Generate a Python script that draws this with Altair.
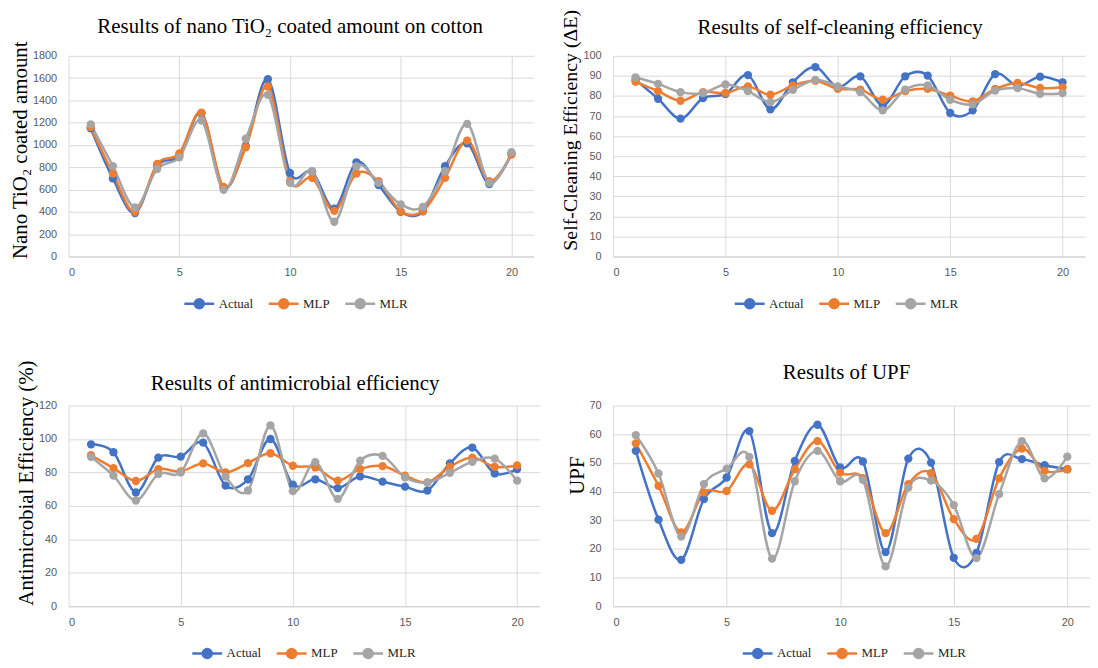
import altair as alt
import pandas as pd

x_vals = list(range(1, 21))
series = ["Actual", "MLP", "MLR"]
colors = ["#4472C4", "#ED7D31", "#A5A5A5"]

tio2_actual = [1150, 700, 390, 815, 905, 1285, 615, 990, 1590, 750, 760, 430, 845, 640, 400, 405, 810, 1015, 650, 920]
tio2_mlp = [1160, 745, 400, 830, 925, 1290, 625, 980, 1525, 675, 705, 410, 745, 675, 405, 408, 705, 1040, 675, 915]
tio2_mlr = [1185, 810, 440, 785, 890, 1220, 598, 1056, 1450, 660, 765, 312, 810, 660, 467, 446, 765, 1190, 660, 935]

sc_actual = [88.0, 78.6, 68.7, 78.9, 81.0, 90.4, 73.3, 86.8, 94.4, 84.3, 89.8, 75.3, 89.8, 90.1, 71.5, 72.8, 90.9, 85.0, 89.6, 86.8]
sc_mlp = [87.1, 82.4, 77.6, 81.9, 81.5, 84.7, 80.6, 85.2, 87.6, 83.5, 83.2, 78.1, 82.4, 83.5, 80.2, 77.3, 83.5, 86.5, 84.0, 84.3]
sc_mlr = [89.3, 86.0, 81.9, 81.4, 85.7, 82.4, 76.9, 83.0, 88.0, 84.8, 81.9, 72.8, 83.2, 85.2, 78.1, 75.8, 82.7, 83.9, 81.1, 81.4]

am_actual = [96.8, 92.1, 68.0, 88.9, 89.5, 97.8, 72.1, 75.9, 100.0, 72.7, 75.9, 70.6, 77.7, 74.5, 71.5, 69.2, 85.4, 94.9, 79.4, 82.0]
am_mlp = [90.3, 82.6, 74.9, 82.0, 80.6, 85.4, 80.0, 85.6, 91.5, 84.0, 83.0, 75.1, 82.0, 83.8, 78.1, 74.1, 83.4, 88.9, 83.4, 84.2]
am_mlr = [89.3, 78.1, 63.2, 79.1, 80.0, 103.4, 77.5, 69.2, 108.1, 68.8, 86.2, 64.2, 87.0, 89.9, 77.1, 73.9, 79.8, 86.4, 88.3, 75.1]

upf_actual = [54.2, 30.2, 16.2, 37.4, 44.9, 61.1, 25.5, 50.7, 63.3, 48.4, 50.5, 18.9, 51.5, 50.1, 16.9, 18.6, 50.3, 51.3, 49.2, 47.8]
upf_mlp = [56.8, 42.0, 25.8, 39.7, 40.2, 49.5, 33.3, 47.8, 57.6, 46.6, 44.7, 25.5, 42.6, 46.4, 30.4, 23.5, 44.6, 55.0, 47.2, 47.8]
upf_mlr = [59.7, 46.3, 24.3, 42.6, 48.0, 52.1, 16.6, 43.6, 54.2, 43.6, 44.1, 13.9, 41.4, 43.8, 35.3, 16.8, 39.1, 57.6, 44.6, 52.2]

SERIF = "Liberation Serif"
SANS = "Liberation Sans"
SYMBOL = "M-1,0L1,0M-0.3,0A0.3,0.3,0,1,0,0.3,0A0.3,0.3,0,1,0,-0.3,0"


def panel(title, ytitle, actual, mlp, mlr, ymax, ystep, w, h, title_dx, title_off,
          ytitle_y, ytitle_size, leg_x):
    rows = []
    for name, vals in zip(series, [actual, mlp, mlr]):
        for xv, v in zip(x_vals, vals):
            rows.append({"x": xv, "v": v, "s": name})
    df = pd.DataFrame(rows)
    xenc = alt.X("x:Q", scale=alt.Scale(domain=[0, 21], nice=False, zero=False),
                 axis=alt.Axis(values=[0, 5, 10, 15, 20], title=None, format="d"))
    yenc = alt.Y("v:Q", scale=alt.Scale(domain=[0, ymax], nice=False),
                 axis=alt.Axis(values=list(range(0, ymax + 1, ystep)), title=ytitle, format="d",
                               titleY=ytitle_y, titleAlign="center", titleFontSize=ytitle_size,
                               titleLimit=400))
    legend = alt.Legend(
        title=None, orient="none", direction="horizontal",
        legendX=leg_x, legendY=h + 31,
        symbolType=SYMBOL, symbolSize=900, symbolStrokeWidth=2.5,
        labelFont=SERIF, labelFontSize=13, labelColor="#262626",
        labelOffset=3, columnPadding=10,
    )
    cenc = alt.Color("s:N", scale=alt.Scale(domain=series, range=colors), legend=legend)
    base = alt.Chart(df)
    line = base.mark_line(interpolate="cardinal", strokeWidth=2.5).encode(x=xenc, y=yenc, color=cenc)
    pts = base.mark_point(filled=True, size=70, opacity=1).encode(x=xenc, y=yenc, color=cenc)
    return alt.layer(line, pts).properties(
        width=w, height=h,
        title=alt.TitleParams(text=title, font=SERIF, fontSize=21, fontWeight="normal",
                              color="#000000", anchor="middle", frame="group",
                              offset=title_off, dx=title_dx),
    )


p1 = panel("Results of nano TiO\u2082 coated amount on cotton", "Nano TiO\u2082 coated amount",
           tio2_actual, tio2_mlp, tio2_mlr, 1800, 200, 468, 202, -11, 3.5, 94.5, 21, 115)
p2 = panel("Results of self-cleaning efficiency", "Self-Cleaning Efficiency (\u0394E)",
           sc_actual, sc_mlp, sc_mlr, 100, 10, 475, 202, -9, -28.5, 74.5, 20, 121)
p3 = panel("Results of antimicrobial efficiency", "Antimicrobial Efficiency (%)",
           am_actual, am_mlp, am_mlr, 120, 20, 474, 202, -9, -34.5, 77.5, 21, 123)
p4 = panel("Results of UPF", "UPF",
           upf_actual, upf_mlp, upf_mlr, 70, 10, 480, 202, -5, 17, 70, 21, 129)

chart = alt.concat(
    p1, p2, p3, p4, columns=2, bounds="flush",
    spacing={"row": 150, "column": 74},
).resolve_scale(color="independent").configure_view(
    stroke=None
).configure_axis(
    grid=True, gridColor="#D9D9D9", gridWidth=1,
    domainColor="#D0D0D0", ticks=False,
    labelFont=SANS, labelFontSize=11, labelColor="#595959",
    titleFont=SERIF, titleFontSize=21, titleFontWeight="normal", titleColor="#000000",
).configure_axisY(
    labelPadding=12, titlePadding=2, domain=False,
).configure_axisX(
    labelPadding=10,
).properties(
    padding={"left": 1, "top": -1, "right": 0, "bottom": 0}
)

chart.save("out.html", embed_options={"renderer": "svg", "actions": False})
